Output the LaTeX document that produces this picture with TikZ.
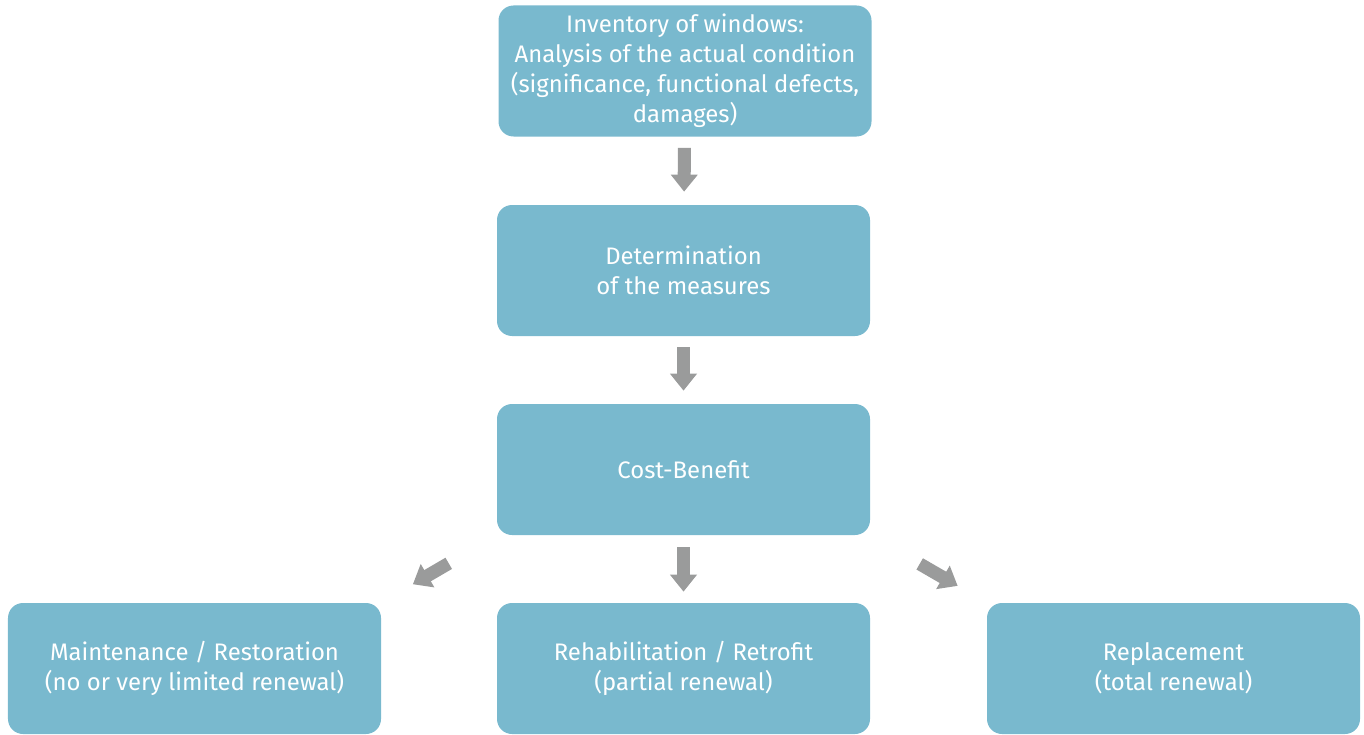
\documentclass[tikz,border=0pt]{standalone}
\usepackage{fontspec}
\setmainfont{Fira Sans}
\usetikzlibrary{arrows.meta}
\definecolor{boxblue}{HTML}{79B9CE}
\definecolor{arrgray}{HTML}{9A9B9B}

\begin{document}
\begin{tikzpicture}[
  box/.style={fill=boxblue, rounded corners=0.3cm, minimum width=7.46cm,
    minimum height=2.62cm, inner sep=0pt, align=center, text=white,
    font=\fontsize{13.6pt}{17.1pt}\selectfont},
  blk/.style={draw=arrgray, line width=0.26cm,
    -{Triangle[width=0.52cm, length=0.34cm, fill=arrgray]}}
]
  \useasboundingbox (0,0) rectangle (27.28,14.68);
  \node[box] (inv) at (13.70,13.26) {Inventory of windows:\\Analysis of the actual condition\\(significance, functional defects,\\damages)};
  \node[box] (det) at (13.67,9.27) {Determination\\of the measures};
  \node[box] (cb) at (13.67,5.29) {Cost-Benefit};
  \node[box] (mr) at (3.89,1.31) {Maintenance / Restoration\\(no or very limited renewal)};
  \node[box] (rr) at (13.67,1.31) {Rehabilitation / Retrofit\\(partial renewal)};
  \node[box] (rp) at (23.47,1.31) {Replacement\\(total renewal)};
  \draw[blk, shorten <=0.22cm, shorten >=0.26cm] (inv) -- (det);
  \draw[blk, shorten <=0.22cm, shorten >=0.26cm] (det) -- (cb);
  \draw[blk, shorten <=0.24cm, shorten >=0.22cm] (cb) -- (rr);
  \draw[blk, shorten <=1.11cm, shorten >=0.73cm] (cb.south west) -- (mr.north east);
  \draw[blk, shorten <=1.14cm, shorten >=0.67cm] (cb.south east) -- (rp.north west);
\end{tikzpicture}
\end{document}
